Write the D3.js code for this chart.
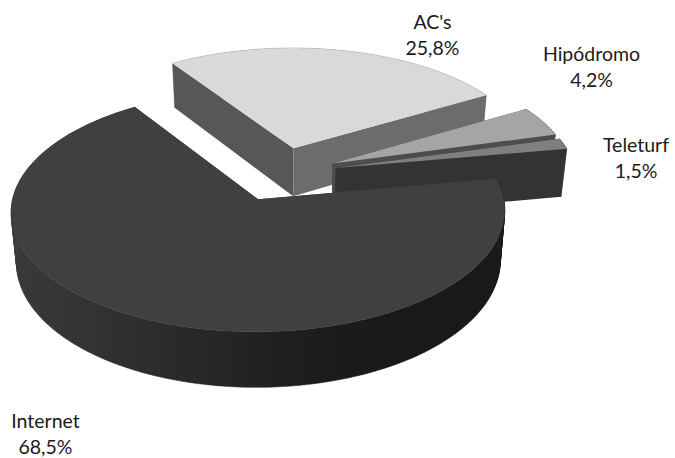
<!DOCTYPE html>
<html>
<head>
<meta charset="utf-8">
<script src="https://cdn.jsdelivr.net/npm/d3@7"></script>
<style>
  html, body { margin: 0; padding: 0; background: #fff; }
  text { font-family: Lato, "Open Sans", sans-serif; font-size: 19.5px; fill: #1a1a1a; text-anchor: middle; }
</style>
</head>
<body>
<svg width="675" height="458"></svg>
<script>
var categories = ["Internet", "AC's", "Hipódromo", "Teleturf"];
var values = [68.5, 25.8, 4.2, 1.5];

var width = 675, height = 458;
var startDeg = 80;      // where the first slice starts, clockwise from the back
var explode = 0.235;    // slice offset, in radii
var cx = 281, cy = 174, rx = 240.5, ry = 114.6;
var persp = 0.0964;     // perspective strength on the pie's depth axis
var depth = 49, baseShrink = 0.98;

var topColor = ["#404040", "#d9d9d9", "#a5a5a5", "#7f7f7f"];
var wallStart = ["#404040", "#575757", "#4d4d4d", "#333333"];  // wall along the slice's start edge
var wallEnd = ["#404040", "#6c6c6c", "#4d4d4d", "#333333"];    // wall along the slice's end edge
var rimColor = ["url(#rimGrad)", "#8a8a8a", "#4d4d4d", "#333333"];
var labelX = [45.5, 432.5, 591.5, 636];
var labelY = [428, 29, 61, 152];
var lineGap = 26;

// disk coordinates (u right, v to the back) to the page, level 0 = top face, 1 = base
function project(u, v, level) {
  var s = 1 / (1 + persp * v);
  var x = rx * u * s, y = -ry * v * s;
  if (level) {
    x *= baseShrink;
    y += depth * s;
  }
  return [cx + x, cy + y];
}

var svg = d3.select("svg");
var defs = svg.append("defs");
var rimGrad = defs.append("linearGradient").attr("id", "rimGrad")
  .attr("gradientUnits", "userSpaceOnUse")
  .attr("x1", 10).attr("x2", 505).attr("y1", 0).attr("y2", 0);
[[0, "#3a3a3a"], [0.2, "#313131"], [0.4, "#272727"], [0.6, "#1d1d1d"], [0.8, "#191919"], [1, "#191919"]]
  .forEach(function(d) { rimGrad.append("stop").attr("offset", d[0]).attr("stop-color", d[1]); });

var pie = d3.pie().sort(null)
  .startAngle(startDeg * Math.PI / 180)
  .endAngle((startDeg + 360) * Math.PI / 180);
var arcs = pie(values);
var line = d3.line();

function slicePoints(d) {
  var mid = (d.startAngle + d.endAngle) / 2;
  var ou = explode * Math.sin(mid), ov = explode * Math.cos(mid);
  var n = Math.max(4, Math.ceil((d.endAngle - d.startAngle) * 60));
  var rim = d3.range(n + 1).map(function(i) {
    var a = d.startAngle + (d.endAngle - d.startAngle) * i / n;
    return [ou + Math.sin(a), ov + Math.cos(a)];
  });
  return { apex: [ou, ov], rim: rim };
}

function at(level) {
  return function(p) { return project(p[0], p[1], level); };
}

// back to front: the big slice sits in front of the others
var order = [1, 2, 3, 0];
order.forEach(function(i) {
  var p = slicePoints(arcs[i]);
  var g = svg.append("g").attr("class", "slice");
  var first = p.rim[0], last = p.rim[p.rim.length - 1];

  // the rim is a run of quads in one path, so the silhouette fills out at the sides without seams
  var rimPath = d3.pairs(p.rim).map(function(seg) {
    return line([at(0)(seg[0]), at(0)(seg[1]), at(1)(seg[1]), at(1)(seg[0])]) + "Z";
  }).join("");
  g.append("path")
    .attr("d", rimPath)
    .attr("fill", rimColor[i])
    .attr("stroke", rimColor[i])
    .attr("stroke-width", 0.5);
  g.append("path")
    .attr("d", line([at(0)(p.apex), at(0)(first), at(1)(first), at(1)(p.apex)]) + "Z")
    .attr("fill", wallStart[i]);
  g.append("path")
    .attr("d", line([at(0)(p.apex), at(0)(last), at(1)(last), at(1)(p.apex)]) + "Z")
    .attr("fill", wallEnd[i]);
  g.append("path")
    .attr("d", line([at(0)(p.apex)].concat(p.rim.map(at(0)))) + "Z")
    .attr("fill", topColor[i]);
});

var pct = function(v) { return v.toFixed(1).replace(".", ",") + "%"; };
categories.forEach(function(c, i) {
  var t = svg.append("text").attr("x", labelX[i]).attr("y", labelY[i]);
  t.append("tspan").attr("x", labelX[i]).text(c);
  t.append("tspan").attr("x", labelX[i]).attr("dy", lineGap).text(pct(values[i]));
});
</script>
</body>
</html>
